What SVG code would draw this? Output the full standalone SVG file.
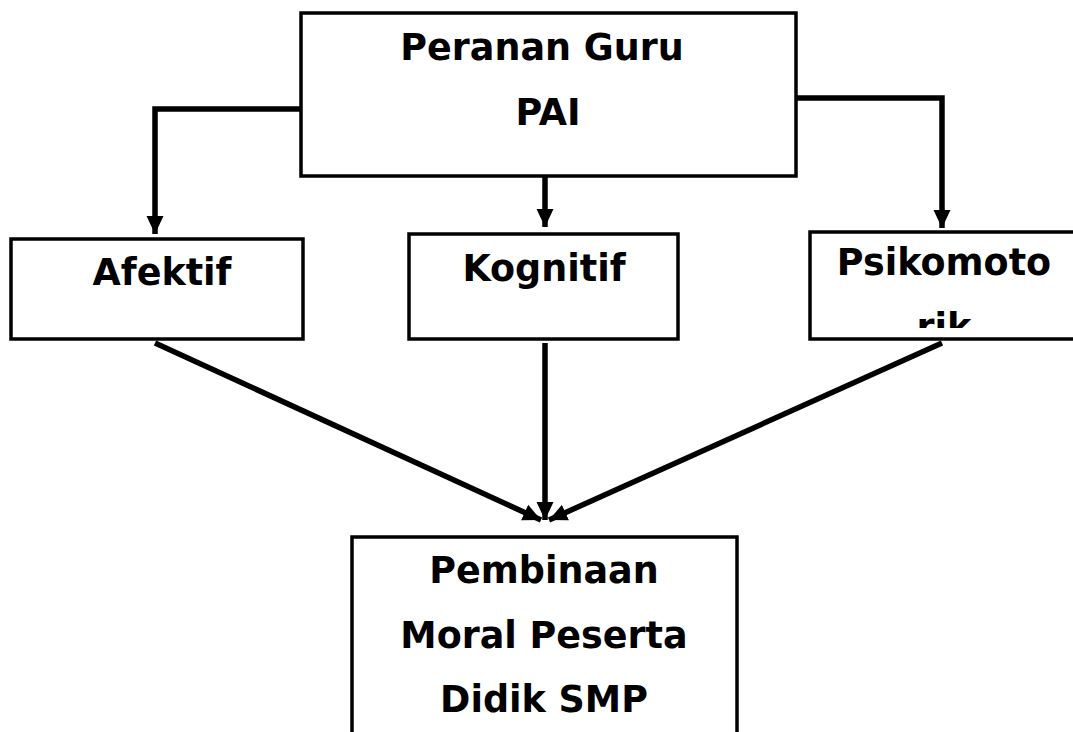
<svg xmlns="http://www.w3.org/2000/svg" width="1073" height="732" viewBox="0 0 1073 732">
<style>
.box{fill:#fff;stroke:#000;stroke-width:3.5}
.t{font-family:"DejaVu Sans","Liberation Sans",sans-serif;font-weight:bold;font-size:36.5px;text-anchor:middle;fill:#000}
.c{fill:none;stroke:#000;stroke-width:5.5}
</style>
<defs>
<marker id="ah" markerUnits="userSpaceOnUse" markerWidth="20" markerHeight="20" viewBox="0 0 20 20" refX="18" refY="10" orient="auto">
<path d="M0,1.5 L18,10 L0,18.5 Z" fill="#000"/>
</marker>
<clipPath id="pc"><rect x="811" y="233" width="262" height="95"/></clipPath>
</defs>
<g id="connectors">
<path class="c" d="M300,109 H155 V234" marker-end="url(#ah)"/>
<path class="c" d="M545,177 V227" marker-end="url(#ah)"/>
<path class="c" d="M797,98 H942 V228" marker-end="url(#ah)"/>
<path class="c" d="M155,343 L541,520" marker-end="url(#ah)"/>
<path class="c" d="M545,343 V520" marker-end="url(#ah)"/>
<path class="c" d="M942,343 L549,520" marker-end="url(#ah)"/>
</g>
<g id="n-top">
<rect class="box" x="301" y="13" width="495" height="163"/>
<text class="t" x="542" y="60">Peranan Guru</text>
<text class="t" x="548" y="125">PAI</text>
</g>
<g id="n-afektif">
<rect class="box" x="11" y="239" width="292" height="100"/>
<text class="t" x="162" y="285">Afektif</text>
</g>
<g id="n-kognitif">
<rect class="box" x="409" y="234" width="269" height="105"/>
<text class="t" x="544" y="281">Kognitif</text>
</g>
<g id="n-psiko">
<rect class="box" x="810" y="232" width="280" height="107"/>
<text class="t" x="944" y="275" clip-path="url(#pc)"><tspan x="944">Psikomoto</tspan><tspan x="944" dy="65">rik</tspan></text>
</g>
<g id="n-bottom">
<rect class="box" x="352" y="537" width="385" height="220"/>
<text class="t" x="544" y="583">Pembinaan</text>
<text class="t" x="544" y="648">Moral Peserta</text>
<text class="t" x="544" y="712">Didik SMP</text>
</g>
</svg>
